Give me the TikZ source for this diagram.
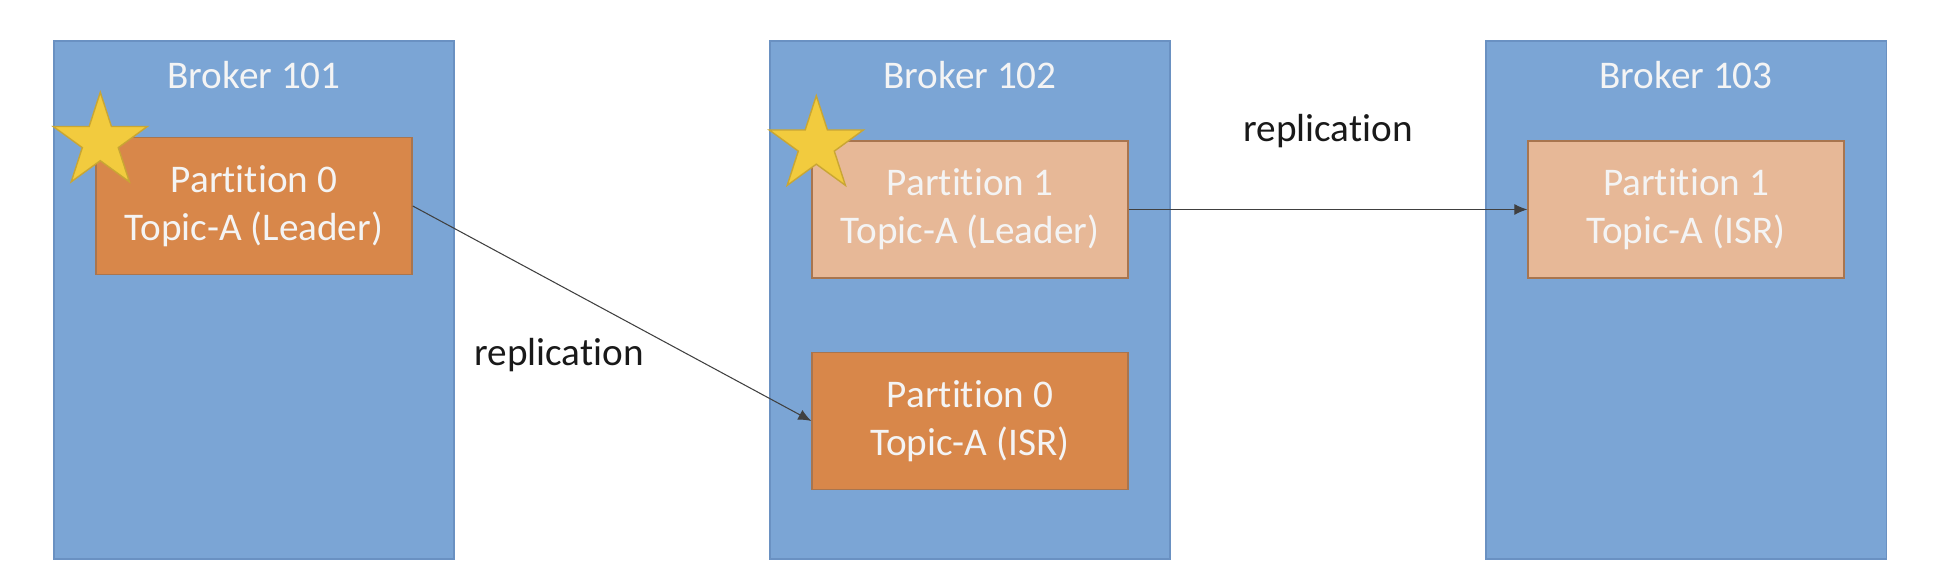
\documentclass[tikz,border=0pt]{standalone}
\usepackage{fontspec}
\setmainfont{Carlito}[Ligatures=NoCommon]
\usetikzlibrary{shapes.geometric,arrows.meta}

\definecolor{brokerblue}{HTML}{7BA5D5}
\definecolor{brokeredge}{HTML}{6A91C2}
\definecolor{leaddark}{HTML}{D8874A}
\definecolor{leadlight}{HTML}{E7B897}
\definecolor{partedge}{HTML}{A8754F}
\definecolor{starfill}{HTML}{F2CB3E}
\definecolor{staredge}{HTML}{C9A634}
\definecolor{boxtext}{HTML}{F4F4F4}

\begin{document}
\begin{tikzpicture}[every node/.style={font=\fontsize{22.3}{27.3}\selectfont},
    broker/.style={rectangle, draw=brokeredge, fill=brokerblue, line width=0.6pt, minimum width=8cm, minimum height=10.36cm},
    brokertitle/.style={text=boxtext},
    partition/.style={rectangle, draw=partedge, line width=0.8pt, minimum width=6.32cm, minimum height=2.74cm, align=center, text=boxtext},
    leader/.style={star, star points=5, star point ratio=2.618, minimum size=1.98cm, inner sep=0pt, fill=starfill, draw=staredge, line width=0.8pt},
    repl/.style={draw=black!75, line width=0.6pt, -{Latex[length=2.6mm,width=2.2mm]}}]
        \useasboundingbox (0,0) rectangle (39.04,-11.48);

        \node (b101) [broker] at (5.08,-6) {};
        \node (b102) [broker] at (19.4,-6) {};
        \node (b103) [broker] at (33.72,-6) {};

        \node (t101) [brokertitle] at ([yshift=-0.7cm]b101.north) {Broker 101};
        \node (t102) [brokertitle] at ([yshift=-0.7cm]b102.north) {Broker 102};
        \node (t103) [brokertitle] at ([yshift=-0.7cm]b103.north) {Broker 103};

        \node (p0lead) [partition, fill=leaddark, below of=t101, node distance=2.61cm] {Partition 0\\Topic-A (Leader)};
        \node (p1lead) [partition, fill=leadlight, below of=t102, node distance=2.68cm] {Partition 1\\Topic-A (Leader)};
        \node (p0isr) [partition, fill=leaddark, below of=p1lead, node distance=4.23cm] {Partition 0\\Topic-A (ISR)};
        \node (p1isr) [partition, fill=leadlight, below of=t103, node distance=2.68cm] {Partition 1\\Topic-A (ISR)};

        \node (s101) [leader] at ([xshift=0.1cm,yshift=-0.1cm]p0lead.north west) {};
        \node (s102) [leader] at ([xshift=0.1cm,yshift=-0.1cm]p1lead.north west) {};

        \draw [repl] (p0lead.east) -- (p0isr.west) node (r1) [midway, xshift=-1.06cm, yshift=-0.84cm, text=black!90] {replication};
        \draw [repl] (p1lead.east) -- (p1isr.west) node (r2) [midway, yshift=1.56cm, text=black!90] {replication};
    \end{tikzpicture}
\end{document}
